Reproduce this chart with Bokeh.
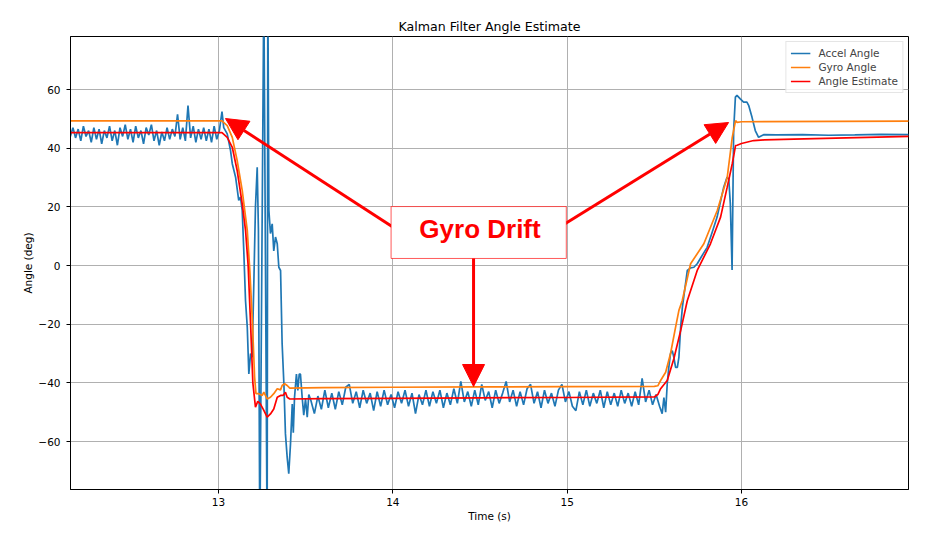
import numpy as np
from bokeh.plotting import figure
from bokeh.models import Arrow, NormalHead, BoxAnnotation, Label, FixedTicker, Range1d
from bokeh.embed import file_html
from bokeh.resources import INLINE

# ---------------- data ----------------
# Accel angle, flat part before the tilt (uniform 15 ms samples)
accel_t_flat1 = np.round(12.15 + 0.015 * np.arange(59), 3)
accel_flat1 = [44.0, 47.0, 43.5, 46.5, 42.5, 47.5, 44.0, 46.0, 42.0, 47.0,
               43.0, 46.5, 41.5, 46.0, 43.5, 47.5, 42.5, 46.0, 41.0, 47.0,
               44.0, 48.0, 43.0, 46.5, 42.0, 47.5, 43.5, 46.0, 41.5, 47.0,
               44.5, 48.0, 42.5, 46.0, 41.0, 45.5, 42.5, 47.0, 43.0, 46.5,
               44.0, 51.5, 43.0, 47.0, 42.5, 54.5, 43.5, 47.5, 42.0, 46.5,
               43.0, 47.0, 42.5, 46.5, 42.0, 47.5, 43.0, 46.0, 52.5]

# Accel angle during the fast tilt down
accel_t_drop = [13.03, 13.05, 13.069, 13.079, 13.098, 13.116, 13.126, 13.136, 13.145, 13.155,
                13.165, 13.174, 13.184, 13.193, 13.203, 13.212, 13.222, 13.229, 13.237, 13.26,
                13.279, 13.283, 13.289, 13.298, 13.308, 13.317, 13.327, 13.337, 13.346, 13.356,
                13.365, 13.375, 13.384, 13.394, 13.403, 13.413, 13.423, 13.429, 13.436, 13.447,
                13.455, 13.463, 13.47, 13.48, 13.489, 13.499, 13.509, 13.518]
accel_drop = [47.0, 44.9, 39.2, 34.7, 30.1, 22.2, 23.3, 18.8, 5.0, -12.0,
              -21.0, -37.0, -30.0, -31.3, -5.0, 20.0, 33.5, 12.0, -95.0, 95.0,
              -95.0, 95.0, 18.8, 10.9, 14.2, 5.0, 9.7, 7.4, -0.6, -1.7,
              -26.7, -40.3, -57.4, -65.4, -71.0, -60.8, -47.2, -57.0, -45.0, -37.0,
              -42.6, -37.0, -37.0, -45.0, -51.0, -45.5, -51.7, -44.0]

# Accel angle, flat part at the bottom (uniform 20 ms samples)
accel_t_flat2 = np.round(13.53 + 0.02 * np.arange(101), 3)
accel_flat2 = [-46.0, -50.5, -44.5, -49.0, -42.5, -48.5, -43.5, -49.0, -43.0, -47.5,
               -41.5, -40.5, -47.0, -43.0, -48.5, -42.5, -47.0, -43.5, -49.5, -43.0,
               -48.0, -42.5, -47.5, -44.0, -48.5, -43.0, -47.0, -42.5, -48.0, -43.5,
               -50.5, -44.0, -47.5, -42.5, -48.0, -43.0, -47.0, -42.5, -48.5, -43.5,
               -47.5, -42.0, -47.0, -39.5, -46.5, -43.0, -48.0, -42.5, -47.5, -40.5,
               -46.0, -43.0, -48.5, -42.5, -47.0, -43.5, -39.5, -46.5, -42.5, -48.0,
               -43.0, -47.5, -42.0, -40.5, -47.0, -43.0, -48.5, -42.5, -47.0, -43.5,
               -48.0, -42.5, -40.5, -46.5, -43.0, -48.0, -49.5, -43.0, -47.5, -42.5,
               -48.0, -43.5, -47.0, -42.5, -48.5, -43.0, -47.5, -43.5, -48.0, -42.5,
               -47.0, -43.5, -48.0, -43.0, -47.5, -38.5, -46.5, -42.5, -47.5, -44.0,
               -48.0]

# Accel angle during the tilt back up
accel_t_rise = [15.545, 15.555, 15.565, 15.574, 15.583, 15.593, 15.603, 15.612, 15.622, 15.632,
                15.641, 15.651, 15.661, 15.689, 15.708, 15.727, 15.746, 15.77, 15.803, 15.83,
                15.86, 15.898, 15.917, 15.927, 15.936, 15.946, 15.955, 15.965, 15.974, 15.993,
                16.012, 16.031, 16.041, 16.06, 16.079, 16.098, 16.127]
accel_rise = [-50.5, -45.0, -50.0, -40.3, -34.7, -30.0, -29.0, -31.3, -34.7, -34.7,
              -31.3, -21.0, -14.2, -1.7, -0.8, -0.6, 0.6, 3.0, 6.2, 11.0,
              16.5, 26.7, 30.1, 29.5, 21.0, -1.5, 46.0, 57.4, 58.0, 56.8,
              55.7, 55.7, 54.6, 50.6, 46.0, 43.7, 44.6]

# Accel angle, final flat part
accel_t_end = [16.2, 16.35, 16.5, 16.65, 16.8, 16.96]
accel_end = [44.5, 44.6, 44.4, 44.5, 44.7, 44.6]

# Gyro angle
gyro_t = [12.15, 13.02, 13.05, 13.079, 13.107, 13.136, 13.165, 13.18, 13.195, 13.207,
          13.215, 13.231, 13.251, 13.26, 13.279, 13.298, 13.317, 13.337, 13.356, 13.365,
          13.379, 13.394, 13.409, 13.6, 14.0, 14.5, 15.0, 15.5, 15.52, 15.536,
          15.565, 15.593, 15.622, 15.641, 15.66, 15.708, 15.784, 15.861, 15.918, 15.947,
          15.966, 15.975, 16.0, 16.96]
gyro = [49.3, 49.3, 47.7, 43.7, 35.8, 25.6, 12.0, -2.0, -20.0, -38.0,
        -43.7, -43.7, -44.3, -43.2, -45.5, -44.9, -43.7, -42.0, -42.4, -40.9,
        -40.3, -40.9, -41.8, -41.6, -41.5, -41.4, -41.3, -41.2, -41.0, -39.2,
        -36.4, -30.0, -21.0, -15.3, -12.0, 0.6, 7.4, 18.75, 30.0, 43.7,
        49.4, 48.8, 49.0, 49.2]

# Kalman angle estimate
est_t = [12.15, 13.02, 13.05, 13.079, 13.107, 13.136, 13.155, 13.17, 13.184, 13.197,
         13.212, 13.225, 13.24, 13.26, 13.279, 13.298, 13.317, 13.337, 13.356, 13.37,
         13.384, 13.394, 13.409, 13.6, 14.0, 14.5, 15.0, 15.5, 15.52, 15.536,
         15.574, 15.612, 15.651, 15.689, 15.746, 15.822, 15.88, 15.918, 15.947, 15.966,
         15.975, 16.0, 16.07, 16.13, 16.3, 16.6, 16.96]
est = [45.3, 45.3, 43.7, 40.3, 32.4, 21.0, 12.0, 0.0, -20.0, -40.0,
       -48.3, -46.3, -47.2, -49.4, -51.7, -50.6, -48.9, -44.9, -44.3, -44.3,
       -43.2, -44.9, -45.5, -45.4, -45.3, -45.1, -45.0, -44.8, -44.0, -42.0,
       -39.2, -31.8, -22.2, -12.0, -1.7, 7.4, 16.5, 26.7, 34.7, 40.9,
       41.0, 41.6, 42.6, 42.8, 43.1, 43.5, 44.0]

x_ticks = [13, 14, 15, 16]
y_ticks = [-60, -40, -20, 0, 20, 40, 60]

# annotation geometry (data coordinates)
ANN_TEXT = "Gyro Drift"
ANN_X, ANN_Y = 14.5, 12.3
BOX = dict(left=13.99, right=14.995, bottom=2.4, top=20.1)
ARROWS = [((14.044, 11.45), (13.040, 50.1)),
          ((14.932, 12.2), (15.926, 48.75)),
          ((14.463, 8.5), (14.463, -41.25))]

# ---------------- figure ----------------
accel_t = np.concatenate([accel_t_flat1, accel_t_drop, accel_t_flat2, accel_t_rise, accel_t_end])
accel = np.concatenate([accel_flat1, accel_drop, accel_flat2, accel_rise, accel_end])

FONT = "DejaVu Sans"

p = figure(frame_width=838, frame_height=453,
           min_border_left=70, min_border_right=26, min_border_top=36, min_border_bottom=41,
           x_range=Range1d(12.151, 16.958), y_range=Range1d(-76.36, 78.07),
           output_backend="svg", toolbar_location=None,
           title="Kalman Filter Angle Estimate")

p.background_fill_color = "white"
p.border_fill_color = "white"
p.outline_line_color = "black"
p.outline_line_width = 1

p.title.align = "center"
p.title.text_font = FONT
p.title.text_font_style = "normal"
p.title.text_font_size = "12.6px"
p.title.text_color = "black"
p.title.standoff = 5

p.line(accel_t, accel, line_color="#1f77b4", line_width=1.7, legend_label="Accel Angle")
p.line(gyro_t, gyro, line_color="#ff7f0e", line_width=1.7, legend_label="Gyro Angle")
p.line(est_t, est, line_color="#ff0000", line_width=1.7, legend_label="Angle Estimate")

for ax in (p.xaxis[0], p.yaxis[0]):
    ax.major_label_text_font = FONT
    ax.major_label_text_font_size = "10.5px"
    ax.major_label_text_color = "black"
    ax.axis_label_text_font = FONT
    ax.axis_label_text_font_size = "10.5px"
    ax.axis_label_text_font_style = "normal"
    ax.axis_label_text_color = "black"
    ax.axis_line_color = "black"
    ax.major_tick_line_color = "black"
    ax.major_tick_out = 4
    ax.major_tick_in = 0
    ax.minor_tick_line_color = None
    ax.axis_label_standoff = 1

p.xaxis.major_label_standoff = 4
p.yaxis.major_label_standoff = 6
p.xaxis.axis_label = "Time (s)"
p.yaxis.axis_label = "Angle (deg)"
p.xaxis.ticker = FixedTicker(ticks=x_ticks)
p.yaxis.ticker = FixedTicker(ticks=y_ticks)
p.yaxis.major_label_overrides = {v: (str(v).replace("-", "\u2212")) for v in y_ticks}

p.grid.grid_line_color = "#b0b0b0"
p.grid.grid_line_width = 1
p.xgrid.ticker = FixedTicker(ticks=x_ticks)
p.ygrid.ticker = FixedTicker(ticks=y_ticks)

lg = p.legend[0]
lg.location = "top_right"
lg.margin = 5
lg.padding = 4
lg.spacing = 0
lg.label_text_font = FONT
lg.label_text_font_size = "10.5px"
lg.label_height = 14
lg.glyph_height = 14
lg.glyph_width = 20
lg.label_standoff = 8
lg.border_line_color = "#cccccc"
lg.border_line_width = 1
lg.background_fill_alpha = 0.8

for (xs, ys), (xe, ye) in ARROWS:
    p.add_layout(Arrow(end=NormalHead(size=22, fill_color="red", line_color="red", line_width=1),
                       x_start=xs, y_start=ys, x_end=xe, y_end=ye,
                       line_color="red", line_width=3))

p.add_layout(BoxAnnotation(**BOX, fill_color="white", fill_alpha=1.0,
                           line_color="red", line_alpha=0.65, line_width=1))
p.add_layout(Label(x=ANN_X, y=ANN_Y, text=ANN_TEXT, text_font="Liberation Sans",
                   text_font_style="bold", text_font_size="26px", text_color="red",
                   text_align="center", text_baseline="alphabetic"))

open("out.html", "w").write(file_html(p, INLINE))
